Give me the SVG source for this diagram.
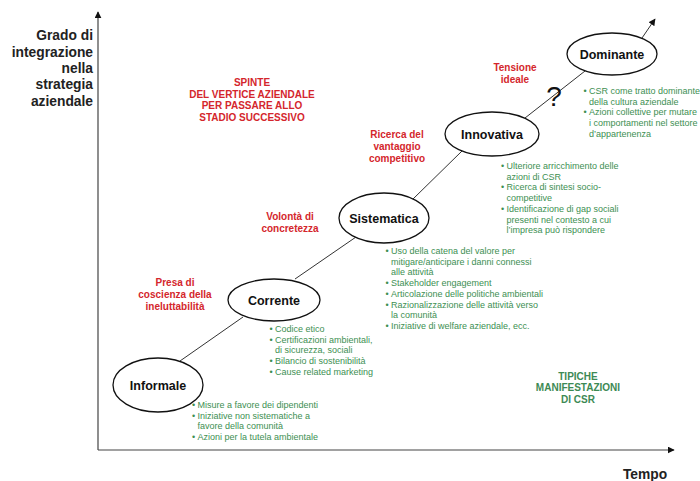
<svg xmlns="http://www.w3.org/2000/svg" width="700" height="481" viewBox="0 0 700 481">
<style>
.ax{font-family:"Liberation Sans",Arial,sans-serif;font-weight:bold;font-size:13.8px;fill:#222}
.node ellipse{fill:#fff;stroke:#111;stroke-width:1.3}
.node text{font-family:"Liberation Sans",Arial,sans-serif;font-weight:bold;font-size:12.5px;fill:#111;text-anchor:middle}
.red{font-family:"Liberation Sans",Arial,sans-serif;font-weight:bold;font-size:10px;fill:#d4262c;text-anchor:middle}
.grn{font-family:"Liberation Sans",Arial,sans-serif;font-size:9px;fill:#3d8f52}
.grnb{font-family:"Liberation Sans",Arial,sans-serif;font-weight:bold;font-size:10px;fill:#3d8a55;text-anchor:middle}
.con{stroke:#333;stroke-width:1;fill:none}
</style>
<defs>
<marker id="ah" viewBox="0 0 10 10" refX="9" refY="5" markerWidth="7" markerHeight="7" orient="auto" markerUnits="userSpaceOnUse">
<path d="M0,0 L10,5 L0,10 z" fill="#111"/>
</marker>
</defs>
<rect width="700" height="481" fill="#fff"/>
<g id="axes">
<line x1="98" y1="450" x2="98" y2="12" stroke="#444" stroke-width="1.2" marker-end="url(#ah)"/>
<line x1="98" y1="450" x2="674" y2="450" stroke="#444" stroke-width="1.2" marker-end="url(#ah)"/>
</g>
<g id="axis-labels">
<text class="ax" text-anchor="end"><tspan x="93" y="40">Grado di</tspan><tspan x="93" y="57">integrazione</tspan><tspan x="93" y="73">nella</tspan><tspan x="93" y="89">strategia</tspan><tspan x="93" y="106">aziendale</tspan></text>
<text class="ax" x="645" y="479" text-anchor="middle">Tempo</text>
</g>
<g id="connectors">
<line class="con" x1="180" y1="361" x2="243" y2="317"/>
<line class="con" x1="295" y1="279" x2="356" y2="237"/>
<line class="con" x1="413" y1="199" x2="462" y2="151"/>
<line class="con" x1="525" y1="118" x2="585" y2="71"/>
<line class="con" x1="642" y1="38" x2="655" y2="19" marker-end="url(#ah)"/>
</g>
<g id="informale" class="node"><ellipse cx="158" cy="385" rx="45" ry="27"/><text x="158" y="389.5">Informale</text></g>
<g id="corrente" class="node"><ellipse cx="274" cy="300" rx="46" ry="21"/><text x="274" y="304.5">Corrente</text></g>
<g id="sistematica" class="node"><ellipse cx="384" cy="218" rx="45" ry="25"/><text x="384" y="222.5">Sistematica</text></g>
<g id="innovativa" class="node"><ellipse cx="492" cy="134" rx="47" ry="22"/><text x="492" y="138.5">Innovativa</text></g>
<g id="dominante" class="node"><ellipse cx="612" cy="54" rx="45" ry="21"/><text x="612" y="58.5">Dominante</text></g>
<text x="554" y="106" font-family="Liberation Sans,Arial,sans-serif" font-size="28" fill="#111" text-anchor="middle">?</text>
<g id="drivers">
<text class="red"><tspan x="252" y="86">SPINTE</tspan><tspan x="252" y="97.5">DEL VERTICE AZIENDALE</tspan><tspan x="252" y="109">PER PASSARE ALLO</tspan><tspan x="252" y="120.5">STADIO SUCCESSIVO</tspan></text>
<text class="red"><tspan x="515" y="71">Tensione</tspan><tspan x="515" y="83">ideale</tspan></text>
<text class="red"><tspan x="397" y="138">Ricerca del</tspan><tspan x="397" y="150">vantaggio</tspan><tspan x="397" y="161.5">competitivo</tspan></text>
<text class="red"><tspan x="290" y="220">Volontà di</tspan><tspan x="290" y="232">concretezza</tspan></text>
<text class="red"><tspan x="175" y="286">Presa di</tspan><tspan x="175" y="298">coscienza della</tspan><tspan x="175" y="309.5">ineluttabilità</tspan></text>
</g>
<g id="manifestations">
<text class="grn"><tspan x="192" y="408">•</tspan><tspan x="197.5" y="408">Misure a favore dei dipendenti</tspan><tspan x="192" y="418.7">•</tspan><tspan x="197.5" y="418.7">Iniziative non sistematiche a</tspan><tspan x="197.5" y="429.4">favore della comunità</tspan><tspan x="192" y="440">•</tspan><tspan x="197.5" y="440">Azioni per la tutela ambientale</tspan></text>
<text class="grn"><tspan x="269.5" y="332">•</tspan><tspan x="275" y="332">Codice etico</tspan><tspan x="269.5" y="342.7">•</tspan><tspan x="275" y="342.7">Certificazioni ambientali,</tspan><tspan x="275" y="353.4">di sicurezza, sociali</tspan><tspan x="269.5" y="364">•</tspan><tspan x="275" y="364">Bilancio di sostenibilità</tspan><tspan x="269.5" y="374.7">•</tspan><tspan x="275" y="374.7">Cause related marketing</tspan></text>
<text class="grn"><tspan x="385.5" y="254">•</tspan><tspan x="391" y="254">Uso della catena del valore per</tspan><tspan x="391" y="264.7">mitigare/anticipare i danni connessi</tspan><tspan x="391" y="275.4">alle attività</tspan><tspan x="385.5" y="286">•</tspan><tspan x="391" y="286">Stakeholder engagement</tspan><tspan x="385.5" y="296.8">•</tspan><tspan x="391" y="296.8">Articolazione delle politiche ambientali</tspan><tspan x="385.5" y="307.5">•</tspan><tspan x="391" y="307.5">Razionalizzazione delle attività verso</tspan><tspan x="391" y="318.2">la comunità</tspan><tspan x="385.5" y="329">•</tspan><tspan x="391" y="329">Iniziative di welfare aziendale, ecc.</tspan></text>
<text class="grn"><tspan x="501" y="169">•</tspan><tspan x="506.5" y="169">Ulteriore arricchimento delle</tspan><tspan x="506.5" y="179.7">azioni di CSR</tspan><tspan x="501" y="190.4">•</tspan><tspan x="506.5" y="190.4">Ricerca di sintesi socio-</tspan><tspan x="506.5" y="201.1">competitive</tspan><tspan x="501" y="211.8">•</tspan><tspan x="506.5" y="211.8">Identificazione di gap sociali</tspan><tspan x="506.5" y="222.5">presenti nel contesto a cui</tspan><tspan x="506.5" y="233.2">l’impresa può rispondere</tspan></text>
<text class="grn"><tspan x="583.5" y="94">•</tspan><tspan x="589" y="94">CSR come tratto dominante</tspan><tspan x="589" y="104.7">della cultura aziendale</tspan><tspan x="583.5" y="115.4">•</tspan><tspan x="589" y="115.4">Azioni collettive per mutare</tspan><tspan x="589" y="126">i comportamenti nel settore</tspan><tspan x="589" y="136.7">d’appartenenza</tspan></text>
<text class="grnb"><tspan x="578" y="379.5">TIPICHE</tspan><tspan x="578" y="391">MANIFESTAZIONI</tspan><tspan x="578" y="402.5">DI CSR</tspan></text>
</g>
</svg>
